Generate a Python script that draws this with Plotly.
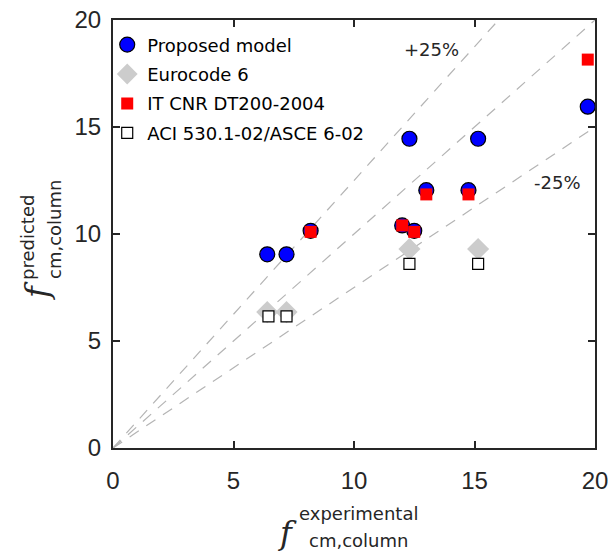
import plotly.graph_objects as go

# Data
prop_x = [6.4, 7.2, 8.2, 12.0, 12.5, 12.3, 13.0, 14.75, 15.15, 19.7]
prop_y = [9.05, 9.05, 10.15, 10.4, 10.15, 14.45, 12.05, 12.05, 14.45, 15.95]
ec6_x = [6.4, 7.2, 12.3, 15.15]
ec6_y = [6.35, 6.35, 9.3, 9.3]
cnr_x = [8.2, 12.0, 12.5, 13.0, 14.75, 19.7]
cnr_y = [10.1, 10.4, 10.1, 11.85, 11.85, 18.15]
aci_x = [6.45, 7.2, 12.3, 15.15]
aci_y = [6.15, 6.15, 8.6, 8.6]
ratios = [1.0, 1.25, 0.75]
ticks = [0, 5, 10, 15, 20]

fig = go.Figure()
grey = "#b4b4b4"
# reference lines
for k in ratios:
    xe = min(20, 20 / k)
    fig.add_trace(go.Scatter(x=[0, xe], y=[0, k * xe], mode="lines",
                             line=dict(color=grey, width=1.2, dash="11px,9px"),
                             showlegend=False, hoverinfo="skip"))

fig.add_trace(go.Scatter(x=prop_x, y=prop_y, mode="markers", name="Proposed model",
                         legendgroup="a",
                         marker=dict(symbol="circle", size=15, color="#0000ff",
                                     line=dict(color="black", width=1.2))))
fig.add_trace(go.Scatter(x=ec6_x, y=ec6_y, mode="markers", name="Eurocode 6",
                         legendgroup="b",
                         marker=dict(symbol="diamond", size=17, color="#cccccc",
                                     line=dict(width=0))))
fig.add_trace(go.Scatter(x=cnr_x, y=cnr_y, mode="markers", name="IT CNR DT200-2004",
                         legendgroup="c",
                         marker=dict(symbol="square", size=12, color="#ff0000",
                                     line=dict(width=0))))
fig.add_trace(go.Scatter(x=aci_x, y=aci_y, mode="markers", name="ACI 530.1-02/ASCE 6-02",
                         legendgroup="d",
                         marker=dict(symbol="square", size=11, color="white",
                                     line=dict(color="black", width=1.2))))

axis_common = dict(range=[0, 20], tickvals=ticks, ticks="inside", ticklen=7,
                   tickwidth=1.5, tickcolor="#262626", showline=True, linecolor="#262626",
                   linewidth=2, mirror="ticks", showgrid=False, zeroline=False,
                   automargin=False, ticklabeloverflow="allow",
                   tickfont=dict(size=24, color="#262626", family="Liberation Sans"))
fig.update_xaxes(**axis_common, ticklabelstandoff=10)
fig.update_yaxes(**axis_common, ticklabelstandoff=5)

W, H = 608, 546
L, R, T, B = 105, 21, 12, 106
OFF = 8  # page body margin

ann = [
    dict(x=13.2, y=18.6, text="+25%", xref="x", yref="y", showarrow=False,
         font=dict(size=18, color="#262626", family="DejaVu Sans")),
    dict(x=18.45, y=12.4, text="-25%", xref="x", yref="y", showarrow=False,
         font=dict(size=18, color="#262626", family="DejaVu Sans")),
]
# axis-title pieces, positioned in screen pixels
pix = [
    ("<i>f</i>", 287, 533, 0, 32, "DejaVu Serif"),
    ("experimental", 358, 513, 0, 18, "DejaVu Sans"),
    ("cm,column", 358, 540, 0, 18, "DejaVu Sans"),
    ("<i>f</i>", 37, 291, -90, 32, "DejaVu Serif"),
    ("predicted", 27, 238, -90, 18, "DejaVu Sans"),
    ("cm,column", 54, 230, -90, 18, "DejaVu Sans"),
]
for text, px, py, ang, fs, fam in pix:
    ann.append(dict(
        text=text, textangle=ang, showarrow=False, xref="paper", yref="paper",
        x=(px - OFF - L) / (W - L - R), y=1 - (py - OFF - T) / (H - T - B),
        xanchor="center", yanchor="middle",
        font=dict(size=fs, color="#262626", family=fam)))
fig.update_layout(annotations=ann)

fig.update_layout(
    width=W, height=H, margin=dict(l=L, r=R, t=T, b=B, autoexpand=False),
    plot_bgcolor="white", paper_bgcolor="white",
    legend=dict(x=-0.012, y=0.985, xanchor="left", yanchor="top", bgcolor="rgba(0,0,0,0)",
                font=dict(size=18, color="black", family="DejaVu Sans"),
                itemwidth=30, tracegroupgap=3),
)
fig.write_html("out.html")
